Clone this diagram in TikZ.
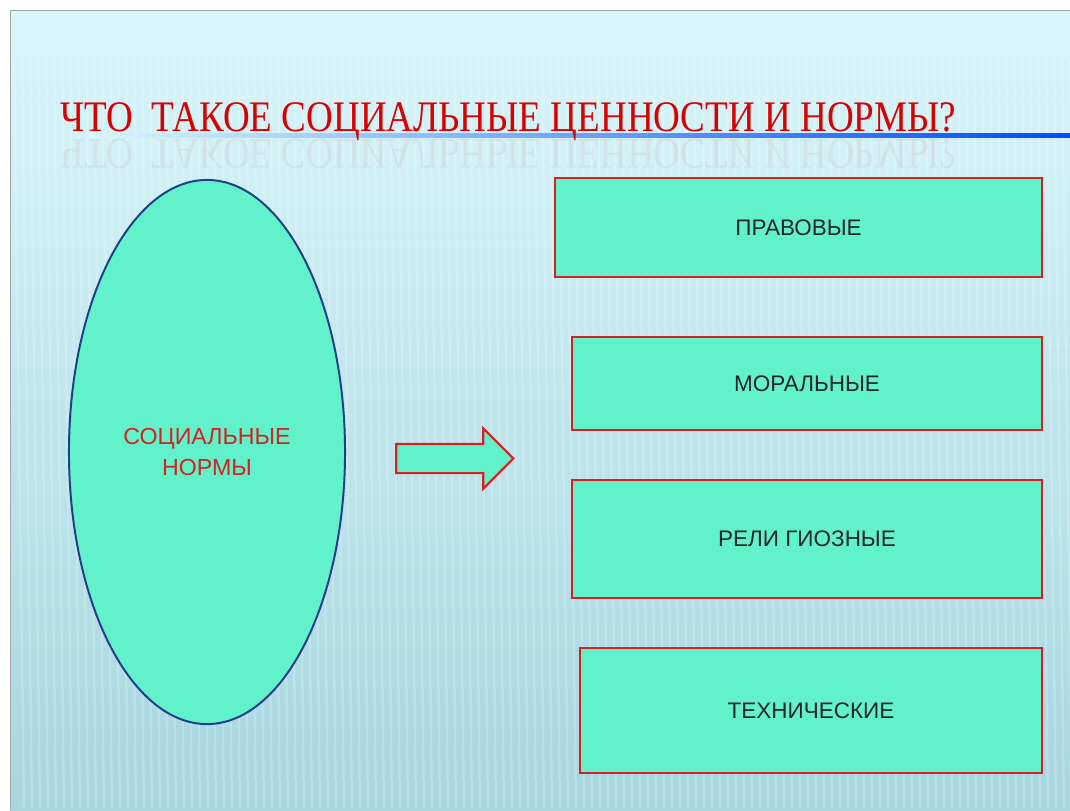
\documentclass[tikz,border=0pt]{standalone}
\usepackage{fontspec}
\setmainfont{Liberation Serif}
\setsansfont{Liberation Sans}
\usetikzlibrary{shapes,shapes.arrows,positioning}
\definecolor{aqua}{HTML}{62F2CB}
\definecolor{boxred}{HTML}{D42222}
\definecolor{normblue}{HTML}{1F3F86}
\definecolor{slidetop}{HTML}{D9F6FA}
\definecolor{slidebot}{HTML}{A7D6DF}
\tikzset{
  basic/.style    = {draw, fill=aqua, font=\sffamily, align=center},
  root/.style     = {basic, ellipse, draw=normblue, line width=1.4pt, inner sep=0pt,
                     text=boxred, font=\sffamily\fontsize{16.5}{21.5}\selectfont},
  category/.style = {basic, rectangle, draw=boxred, line width=1.8pt, inner sep=0pt,
                     text=black!85, font=\sffamily\fontsize{16}{18}\selectfont},
  pointer/.style  = {basic, single arrow, draw=boxred, line width=1.5pt,
                     inner xsep=0pt, inner ysep=0.3375cm, single arrow head extend=0.3875cm}
}
\begin{document}
\begin{tikzpicture}[x=0.025cm, y=-0.025cm]
  \useasboundingbox (0,0) rectangle (1070,810);

  % slide background
  \fill[white] (0,0) rectangle (1070,810);
  \shade[top color=slidetop, bottom color=slidebot] (10,10) rectangle (1070,810);
  \draw[gray!70, line width=0.6pt] (10,810) -- (10,10) -- (1070,10);
  \foreach \s in {0,...,132}
    \draw[white, opacity=0.2, line width=1.6pt] (14+\s*8,60) -- (24+\s*8,808);

  % title with its reflection and underline
  \shade[left color=slidetop, right color=blue!70!cyan] (90,133) rectangle (1070,137);
  \node[anchor=base west, inner sep=0pt, text=red!85!black] (title) at (60,131)
    {\scalebox{0.85}[1]{\fontsize{31}{31}\selectfont ЧТО\ \ ТАКОЕ СОЦИАЛЬНЫЕ ЦЕННОСТИ И НОРМЫ?}};
  \node[anchor=base west, inner sep=0pt, text=red!60!gray, opacity=0.08, yscale=-1, transform shape]
    (echo) at (60,139)
    {\scalebox{0.85}[1]{\fontsize{31}{31}\selectfont ЧТО\ \ ТАКОЕ СОЦИАЛЬНЫЕ ЦЕННОСТИ И НОРМЫ?}};

  % the main notion
  \node[root, minimum width=6.9cm, minimum height=13.6cm] (norms) at (207,452)
    {СОЦИАЛЬНЫЕ\\НОРМЫ};

  % arrow towards the kinds of norms
  \node[pointer, minimum height=2.925cm, minimum width=1.45cm] (go) at (447.5,458.5) {};

  % kinds of norms
  \node[category, minimum width=12.175cm, minimum height=2.475cm] (k1) at (798.5,227.5) {ПРАВОВЫЕ};
  \node[category, minimum width=11.75cm, minimum height=2.325cm] (k2) at (807,383.5) {МОРАЛЬНЫЕ};
  \node[category, minimum width=11.75cm, minimum height=2.95cm] (k3) at (807,539) {РЕЛИ ГИОЗНЫЕ};
  \node[category, minimum width=11.55cm, minimum height=3.125cm] (k4) at (811,710.5) {ТЕХНИЧЕСКИЕ};
\end{tikzpicture}
\end{document}
